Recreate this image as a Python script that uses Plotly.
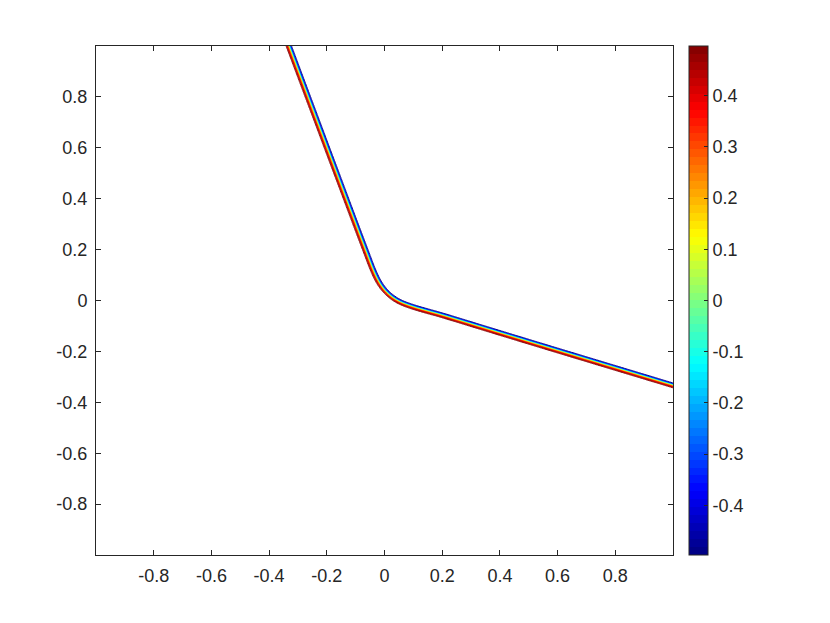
import numpy as np
import plotly.graph_objects as go

# interface curve (where the field crosses zero)
curve_x = [-0.335, -0.091, -0.0625, -0.039, -0.016, 0.013, 0.048, 0.094, 0.152, 0.198, 0.441, 1.010]
curve_y = [1.010, 0.272, 0.187, 0.116, 0.063, 0.024, -0.004, -0.024, -0.043, -0.057, -0.142, -0.337]

amplitude = 0.5       # field goes from -0.5 (upper right) to +0.5 (lower left)
interface_eps = 0.006  # half-width of the transition layer

contour_start = -0.45
contour_end = 0.45
contour_step = 0.05

axis_ticks = [-0.8, -0.6, -0.4, -0.2, 0, 0.2, 0.4, 0.6, 0.8]
cbar_ticks = [-0.4, -0.3, -0.2, -0.1, 0, 0.1, 0.2, 0.3, 0.4]

AXIS_COLOR = "#262626"
FONT = "Liberation Sans, Arial, sans-serif"
FONT_SIZE = 18


def jet(n=64):
    cols = []
    for i in range(n):
        t = (i + 0.5) / n
        r = min(max(1.5 - abs(4 * t - 3), 0), 1)
        g = min(max(1.5 - abs(4 * t - 2), 0), 1)
        b = min(max(1.5 - abs(4 * t - 1), 0), 1)
        cols.append(f"rgb({int(r*255)},{int(g*255)},{int(b*255)})")
    scale = []
    for i, c in enumerate(cols):
        scale.append([i / n, c])
        scale.append([(i + 1) / n, c])
    return scale


def chaikin(px, py, n_iter=3):
    # round off the corners of the read polyline, keep the end points
    px, py = list(px), list(py)
    for _ in range(n_iter):
        nx, ny = [px[0]], [py[0]]
        for i in range(len(px) - 1):
            nx += [0.75 * px[i] + 0.25 * px[i + 1], 0.25 * px[i] + 0.75 * px[i + 1]]
            ny += [0.75 * py[i] + 0.25 * py[i + 1], 0.25 * py[i] + 0.75 * py[i + 1]]
        nx.append(px[-1])
        ny.append(py[-1])
        px, py = nx, ny
    return px, py


# ─── signed distance to the interface on a grid ──────────────────────────────
sx, sy = chaikin(curve_x, curve_y)

gx = np.linspace(-1, 1, 601)
gy = np.linspace(-1, 1, 601)
X, Y = np.meshgrid(gx, gy)

best = np.full(X.shape, np.inf)
side = np.zeros(X.shape)
for i in range(len(sx) - 1):
    x0, y0 = sx[i], sy[i]
    dx, dy = sx[i + 1] - x0, sy[i + 1] - y0
    t = ((X - x0) * dx + (Y - y0) * dy) / (dx * dx + dy * dy)
    t = np.clip(t, 0, 1)
    d = np.hypot(X - (x0 + t * dx), Y - (y0 + t * dy))
    cross = dx * (Y - y0) - dy * (X - x0)
    closer = d < best
    best = np.where(closer, d, best)
    side = np.where(closer, np.sign(cross), side)

Z = -amplitude * np.tanh(side * best / interface_eps)

jet64 = jet(64)
zlim = 0.497

fig = go.Figure()
fig.add_trace(
    go.Contour(
        x=gx,
        y=gy,
        z=Z,
        contours=dict(
            coloring="lines",
            start=contour_start,
            end=contour_end,
            size=contour_step,
        ),
        line=dict(width=1),
        colorscale=jet64,
        zmin=-zlim,
        zmax=zlim,
        showscale=False,
        hoverinfo="skip",
    )
)

# colour bar as in the original (stepped jet)
fig.add_trace(
    go.Scatter(
        x=[None],
        y=[None],
        mode="markers",
        showlegend=False,
        marker=dict(
            color=[0],
            colorscale=jet64,
            cmin=-zlim,
            cmax=zlim,
            showscale=True,
            colorbar=dict(
                x=1.0277,
                xanchor="left",
                xpad=0,
                y=0.5,
                yanchor="middle",
                len=1,
                lenmode="fraction",
                ypad=0,
                thickness=19,
                thicknessmode="pixels",
                outlinecolor=AXIS_COLOR,
                outlinewidth=1,
                ticks="inside",
                ticklen=4,
                tickcolor=AXIS_COLOR,
                tickvals=cbar_ticks,
                ticktext=[f"{v:g}" for v in cbar_ticks],
                tickfont=dict(size=FONT_SIZE, color=AXIS_COLOR, family=FONT),
            ),
        ),
    )
)

axis_style = dict(
    range=[-1, 1],
    tickvals=axis_ticks,
    ticktext=[f"{v:g}" for v in axis_ticks],
    ticks="inside",
    ticklen=5,
    tickcolor=AXIS_COLOR,
    showline=True,
    linecolor=AXIS_COLOR,
    linewidth=1,
    mirror="ticks",
    showgrid=False,
    zeroline=False,
    ticklabelstandoff=4,
    tickfont=dict(size=FONT_SIZE, color=AXIS_COLOR, family=FONT),
)

fig.update_xaxes(**axis_style)
fig.update_yaxes(**axis_style)
fig.update_layout(
    width=830,
    height=623,
    margin=dict(l=88, r=165, t=38, b=76),
    paper_bgcolor="white",
    plot_bgcolor="white",
    showlegend=False,
    font=dict(family=FONT, size=FONT_SIZE, color=AXIS_COLOR),
)

fig.write_html("out.html")
